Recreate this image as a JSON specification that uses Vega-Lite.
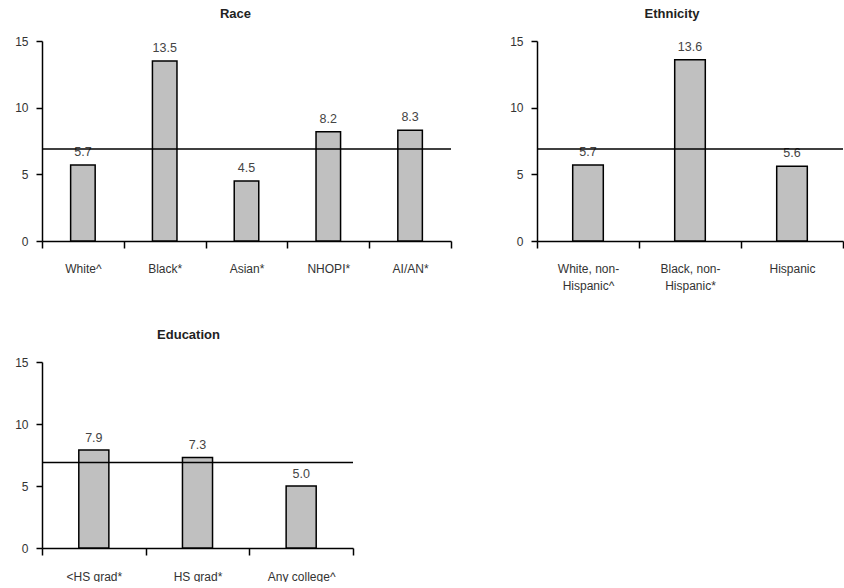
{
  "$schema": "https://vega.github.io/schema/vega-lite/v6.json",
  "padding": {"left": 14, "top": 8, "right": 0, "bottom": 0},
  "background": "white",
  "config": {
    "font": "Liberation Sans",
    "view": {"stroke": null},
    "title": {"fontSize": 13, "fontWeight": "bold", "color": "#222", "offset": 14},
    "axis": {"grid": false, "domainColor": "#000", "tickColor": "#000", "labelColor": "#333", "labelFontSize": 12, "title": null, "domainWidth": 1.5, "tickWidth": 1.5}
  },
  "spacing": 38,
  "datasets": {
    "rates": [
      {"panel": "Race", "group": "White^", "order": 1, "rate": 5.7, "label": "5.7"},
      {"panel": "Race", "group": "Black*", "order": 2, "rate": 13.5, "label": "13.5"},
      {"panel": "Race", "group": "Asian*", "order": 3, "rate": 4.5, "label": "4.5"},
      {"panel": "Race", "group": "NHOPI*", "order": 4, "rate": 8.2, "label": "8.2"},
      {"panel": "Race", "group": "AI/AN*", "order": 5, "rate": 8.3, "label": "8.3"},
      {"panel": "Ethnicity", "group": "White, non-|Hispanic^", "order": 1, "rate": 5.7, "label": "5.7"},
      {"panel": "Ethnicity", "group": "Black, non-|Hispanic*", "order": 2, "rate": 13.6, "label": "13.6"},
      {"panel": "Ethnicity", "group": "Hispanic", "order": 3, "rate": 5.6, "label": "5.6"},
      {"panel": "Education", "group": "<HS grad*", "order": 1, "rate": 7.9, "label": "7.9"},
      {"panel": "Education", "group": "HS grad*", "order": 2, "rate": 7.3, "label": "7.3"},
      {"panel": "Education", "group": "Any college^", "order": 3, "rate": 5.0, "label": "5.0"}
    ],
    "overall": [{"value": 6.9}]
  },
  "vconcat": [
    {
      "spacing": 57,
      "hconcat": [
        {
          "title": {"text": "Race", "dx": -11},
          "width": 409, "height": 200,
          "layer": [
            {
              "data": {"name": "rates"},
              "transform": [{"filter": "datum.panel == 'Race'"}],
              "mark": {"type": "bar", "fill": "#c0c0c0", "stroke": "#000", "strokeWidth": 1.5, "width": {"band": 0.3}},
              "encoding": {
                "x": {"field": "group", "type": "nominal", "sort": {"field": "order"}, "scale": {"paddingInner": 0, "paddingOuter": 0}, "axis": {"labelAngle": 0, "tickBand": "extent", "tickSize": 7, "labelPadding": 15, "labelExpr": "split(datum.label, '|')"}},
                "y": {"field": "rate", "type": "quantitative", "scale": {"domain": [0, 15], "nice": false}, "axis": {"values": [0, 5, 10, 15], "tickSize": 6, "labelPadding": 8}}
              }
            },
            {
              "data": {"name": "rates"},
              "transform": [{"filter": "datum.panel == 'Race'"}],
              "mark": {"type": "text", "dy": -13, "fontSize": 12.5, "color": "#444"},
              "encoding": {
                "x": {"field": "group", "type": "nominal", "sort": {"field": "order"}},
                "y": {"field": "rate", "type": "quantitative"},
                "text": {"field": "label"}
              }
            },
            {
              "data": {"name": "overall"},
              "mark": {"type": "rule", "color": "#000", "strokeWidth": 1.5},
              "encoding": {"y": {"field": "value", "type": "quantitative"}}
            }
          ]
        },
        {
          "title": {"text": "Ethnicity", "dx": -18},
          "width": 306, "height": 200,
          "layer": [
            {
              "data": {"name": "rates"},
              "transform": [{"filter": "datum.panel == 'Ethnicity'"}],
              "mark": {"type": "bar", "fill": "#c0c0c0", "stroke": "#000", "strokeWidth": 1.5, "width": {"band": 0.3}},
              "encoding": {
                "x": {"field": "group", "type": "nominal", "sort": {"field": "order"}, "scale": {"paddingInner": 0, "paddingOuter": 0}, "axis": {"labelAngle": 0, "tickBand": "extent", "tickSize": 7, "labelPadding": 15, "labelExpr": "split(datum.label, '|')", "labelLineHeight": 17}},
                "y": {"field": "rate", "type": "quantitative", "scale": {"domain": [0, 15], "nice": false}, "axis": {"values": [0, 5, 10, 15], "tickSize": 6, "labelPadding": 8}}
              }
            },
            {
              "data": {"name": "rates"},
              "transform": [{"filter": "datum.panel == 'Ethnicity'"}],
              "mark": {"type": "text", "dy": -13, "fontSize": 12.5, "color": "#444"},
              "encoding": {
                "x": {"field": "group", "type": "nominal", "sort": {"field": "order"}},
                "y": {"field": "rate", "type": "quantitative"},
                "text": {"field": "label"}
              }
            },
            {
              "data": {"name": "overall"},
              "mark": {"type": "rule", "color": "#000", "strokeWidth": 1.5},
              "encoding": {"y": {"field": "value", "type": "quantitative"}}
            }
          ]
        }
      ]
    },
    {
      "title": {"text": "Education", "dx": -9},
      "width": 311, "height": 186,
      "layer": [
        {
          "data": {"name": "rates"},
          "transform": [{"filter": "datum.panel == 'Education'"}],
          "mark": {"type": "bar", "fill": "#c0c0c0", "stroke": "#000", "strokeWidth": 1.5, "width": {"band": 0.29}},
          "encoding": {
            "x": {"field": "group", "type": "nominal", "sort": {"field": "order"}, "scale": {"paddingInner": 0, "paddingOuter": 0}, "axis": {"labelAngle": 0, "tickBand": "extent", "tickSize": 7, "labelPadding": 16, "labelExpr": "split(datum.label, '|')"}},
            "y": {"field": "rate", "type": "quantitative", "scale": {"domain": [0, 15], "nice": false}, "axis": {"values": [0, 5, 10, 15], "tickSize": 6, "labelPadding": 8}}
          }
        },
        {
          "data": {"name": "rates"},
          "transform": [{"filter": "datum.panel == 'Education'"}],
          "mark": {"type": "text", "dy": -12, "fontSize": 12.5, "color": "#444"},
          "encoding": {
            "x": {"field": "group", "type": "nominal", "sort": {"field": "order"}},
            "y": {"field": "rate", "type": "quantitative"},
            "text": {"field": "label"}
          }
        },
        {
          "data": {"name": "overall"},
          "mark": {"type": "rule", "color": "#000", "strokeWidth": 1.5},
          "encoding": {"y": {"field": "value", "type": "quantitative"}}
        }
      ]
    }
  ]
}
